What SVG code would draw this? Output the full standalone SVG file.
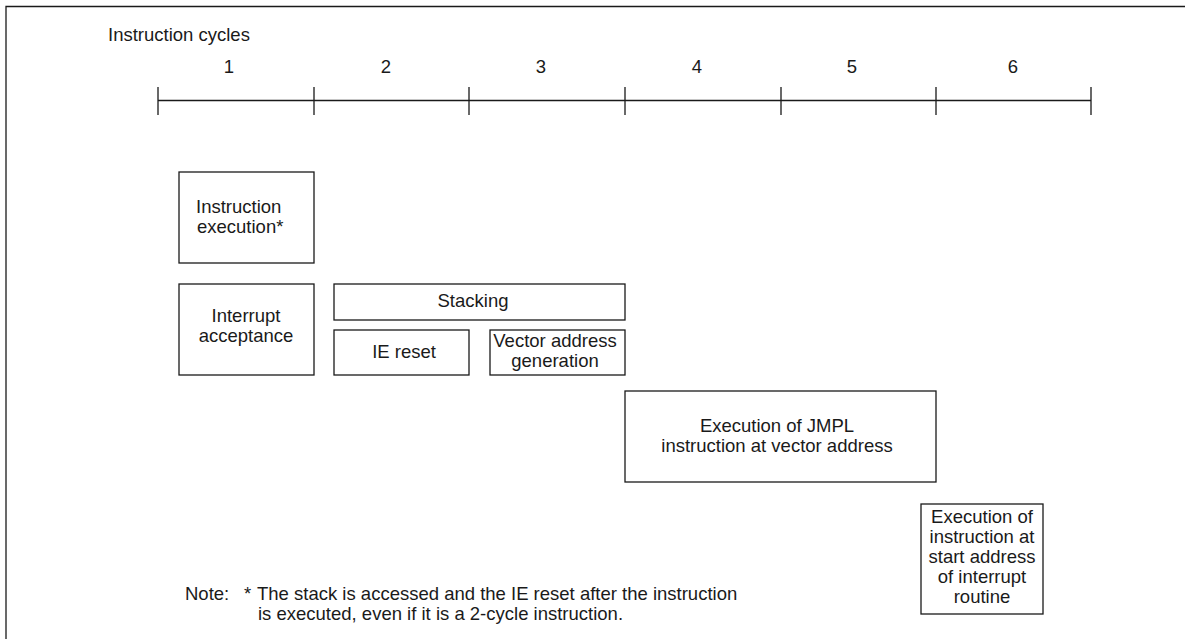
<svg xmlns="http://www.w3.org/2000/svg" width="1185" height="639" viewBox="0 0 1185 639">
<style>
text{font-family:"Liberation Sans",Arial,sans-serif;font-size:18.5px;fill:#1a1a1a}
.c{text-anchor:middle}
.box{fill:#fff;stroke:#1a1a1a;stroke-width:1.3}
.ln{stroke:#1a1a1a;stroke-width:1.3;fill:none}
</style>
<rect width="1185" height="639" fill="#fff"/>
<path class="ln" d="M6,639 V6.5 H1185" stroke-width="1.6"/>
<text x="108" y="41">Instruction cycles</text>
<g id="timeline">
<path class="ln" d="M158,100.5 H1091 M158,87 V115 M314,87 V115 M469,87 V115 M625,87 V115 M781,87 V115 M936,87 V115 M1091,87 V115"/>
<text class="c" x="229" y="73">1</text>
<text class="c" x="386" y="73">2</text>
<text class="c" x="541" y="73">3</text>
<text class="c" x="697" y="73">4</text>
<text class="c" x="852" y="73">5</text>
<text class="c" x="1013" y="73">6</text>
</g>
<g id="instr-exec"><rect class="box" x="179" y="172" width="135" height="91"/><text x="196" y="213">Instruction</text><text x="197" y="233">execution*</text></g>
<g id="int-accept"><rect class="box" x="179" y="284" width="135" height="91"/><text class="c" x="246" y="322">Interrupt</text><text class="c" x="246" y="342">acceptance</text></g>
<g id="stacking"><rect class="box" x="334" y="284" width="291" height="36"/><text class="c" x="473" y="307">Stacking</text></g>
<g id="ie-reset"><rect class="box" x="334" y="330" width="135" height="45"/><text class="c" x="404" y="358">IE reset</text></g>
<g id="vector"><rect class="box" x="490" y="330" width="135" height="45"/><text class="c" x="555" y="347">Vector address</text><text class="c" x="555" y="367">generation</text></g>
<g id="jmpl"><rect class="box" x="625" y="391" width="311" height="91"/><text class="c" x="777" y="432">Execution of JMPL</text><text class="c" x="777" y="452">instruction at vector address</text></g>
<g id="start"><rect class="box" x="921" y="504" width="122" height="110"/><text class="c" x="982" y="523">Execution of</text><text class="c" x="982" y="543">instruction at</text><text class="c" x="982" y="563">start address</text><text class="c" x="982" y="583">of interrupt</text><text class="c" x="982" y="603">routine</text></g>
<g id="connectors"></g>
<text x="185" y="600">Note:</text>
<text x="244" y="600">*</text>
<text x="257" y="600">The stack is accessed and the IE reset after the instruction</text>
<text x="258" y="620">is executed, even if it is a 2-cycle instruction.</text>
</svg>
